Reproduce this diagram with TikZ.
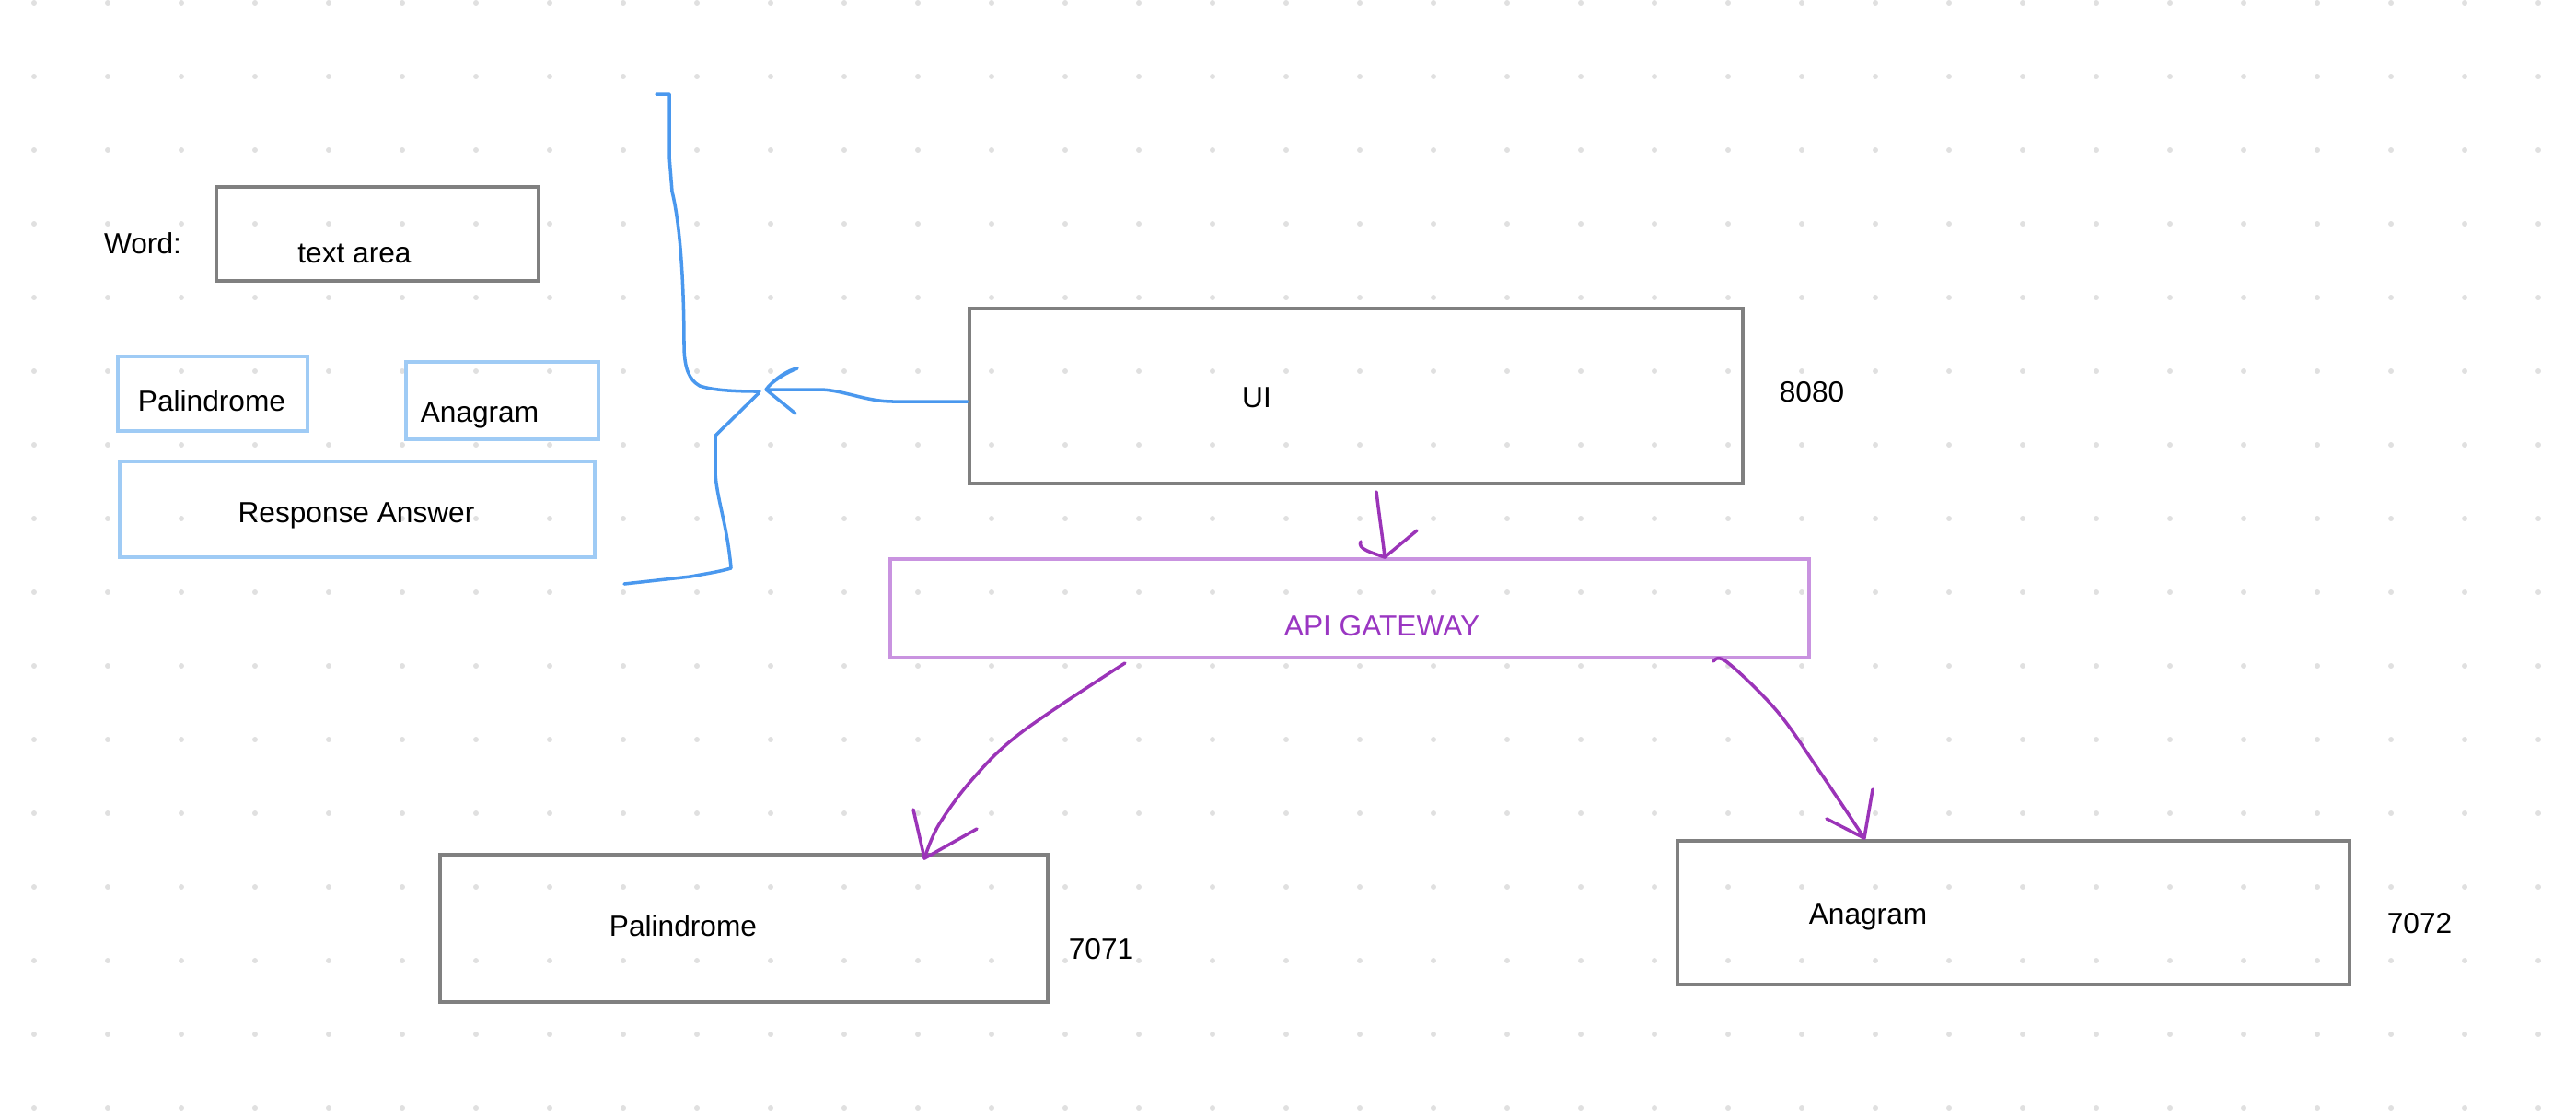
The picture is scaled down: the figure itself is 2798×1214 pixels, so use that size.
\documentclass[tikz,border=0pt]{standalone}
\usepackage{fontspec}
\setmainfont{Liberation Sans}
\usepackage{xcolor}
\usepackage{tikz}

\definecolor{boxgray}{HTML}{808080}
\definecolor{uiblue}{HTML}{9FCBF5}
\definecolor{penblue}{HTML}{4A98EE}
\definecolor{penpurple}{HTML}{9B34B8}
\definecolor{gwline}{HTML}{C993E0}
\definecolor{gwtext}{HTML}{9A36C2}
\definecolor{dotgray}{HTML}{E0E0E0}

\begin{document}
\begin{tikzpicture}[x=0.01cm, y=-0.01cm,
	every node/.style={font=\fontsize{9}{11}\selectfont, inner sep=0pt},
	gbox/.style={draw=boxgray, line width=1.1pt},
	bbox/.style={draw=uiblue, line width=1.1pt},
	gwbox/.style={draw=gwline, line width=1.1pt},
	pen/.style={draw=penblue, line width=1pt, line cap=round, line join=round},
	ink/.style={draw=penpurple, line width=1pt, line cap=round, line join=round}]

\useasboundingbox (0,0) rectangle (2798,1214);

\foreach \i in {0,...,34}{
	\foreach \j in {0,...,15}{
		\fill[dotgray] (37+80*\i, 3+80*\j) circle (3);
	}
}

% left form
\node (word) at (155,264) {Word:};
\node[gbox, minimum width=3.50cm, minimum height=1.02cm] (txt) at (410,254) {};
\node (txtlbl) at (385,275) {text area};

\node[bbox, minimum width=2.06cm, minimum height=0.81cm] (palbtn) at (231,427.5) {};
\node (palbtnlbl) at (230,435) {Palindrome};
\node[bbox, minimum width=2.09cm, minimum height=0.84cm] (anabtn) at (545.5,435) {};
\node (anabtnlbl) at (521,451) {Anagram};
\node[bbox, minimum width=5.16cm, minimum height=1.04cm] (resp) at (388,553) {};
\node (resplbl) at (387,560) {Response Answer};

% services
\node[gbox, minimum width=8.40cm, minimum height=1.90cm] (ui) at (1473,430) {};
\node (uilbl) at (1365,432) {UI};
\node (uiport) at (1968,426) {8080};

\node[gwbox, minimum width=9.98cm, minimum height=1.07cm] (api) at (1466,660.5) {};
\node[text=gwtext] (apilbl) at (1501,680) {API GATEWAY};

\node[gbox, minimum width=6.60cm, minimum height=1.60cm] (pal) at (808,1008) {};
\node (pallbl) at (742,1005) {Palindrome};
\node (palport) at (1196,1031) {7071};

\node[gbox, minimum width=7.30cm, minimum height=1.56cm] (ana) at (2187,991) {};
\node (analbl) at (2029,996) {Anagram};
\node (anaport) at (2628,1003) {7072};

% blue brace and arrow
\draw[pen] (713,102) -- (727,102) -- (727,170) -- (730,208) .. controls (738,240) and (743,300) .. (743,379) .. controls (744,400) and (748,412) .. (760,419) .. controls (775,424) and (800,425) .. (825,425);
\draw[pen] (824,427) -- (777,473) -- (777,513) .. controls (778,540) and (790,570) .. (794,617) .. controls (780,621) and (766,623) .. (750,626) -- (678,634);

\coordinate (uitip) at (832,423);
\draw[pen] ([yshift=-0.06cm]ui.west) -- (970,436) .. controls (940,436) and (915,423) .. (890,423) -- (uitip);
\draw[pen] (uitip) .. controls (842,410) and (858,401) .. (866,400) .. controls (855,404) and (838,414) .. (uitip) -- (864,449);

% purple arrows
\coordinate (gwtip) at ([xshift=0.38cm]api.north);
\draw[ink] ([xshift=0.22cm, yshift=-0.07cm]ui.south) .. controls (1498,560) and (1502,585) .. (gwtip);
\draw[ink] (1539,576) -- (gwtip) .. controls (1490,600) and (1474,596) .. (1478,588);

\coordinate (paltip) at ([xshift=1.96cm, yshift=-0.06cm]pal.north);
\draw[ink] plot[smooth, tension=0.6] coordinates {([xshift=-2.44cm, yshift=-0.04cm]api.south) (1111,794) (1058,844) (1020,895) (paltip)};
\draw[ink] (992,879) -- (paltip) -- (1061,900);

\coordinate (anatip) at ([xshift=-1.62cm, yshift=0.01cm]ana.north);
\draw[ink] plot[smooth, tension=0.6] coordinates {([xshift=3.95cm, yshift=-0.02cm]api.south) (1876,719) (1930,772) (1976,837) (anatip)};
\draw[ink] (1984,889) -- (anatip) -- (2034,857);

\end{tikzpicture}
\end{document}
